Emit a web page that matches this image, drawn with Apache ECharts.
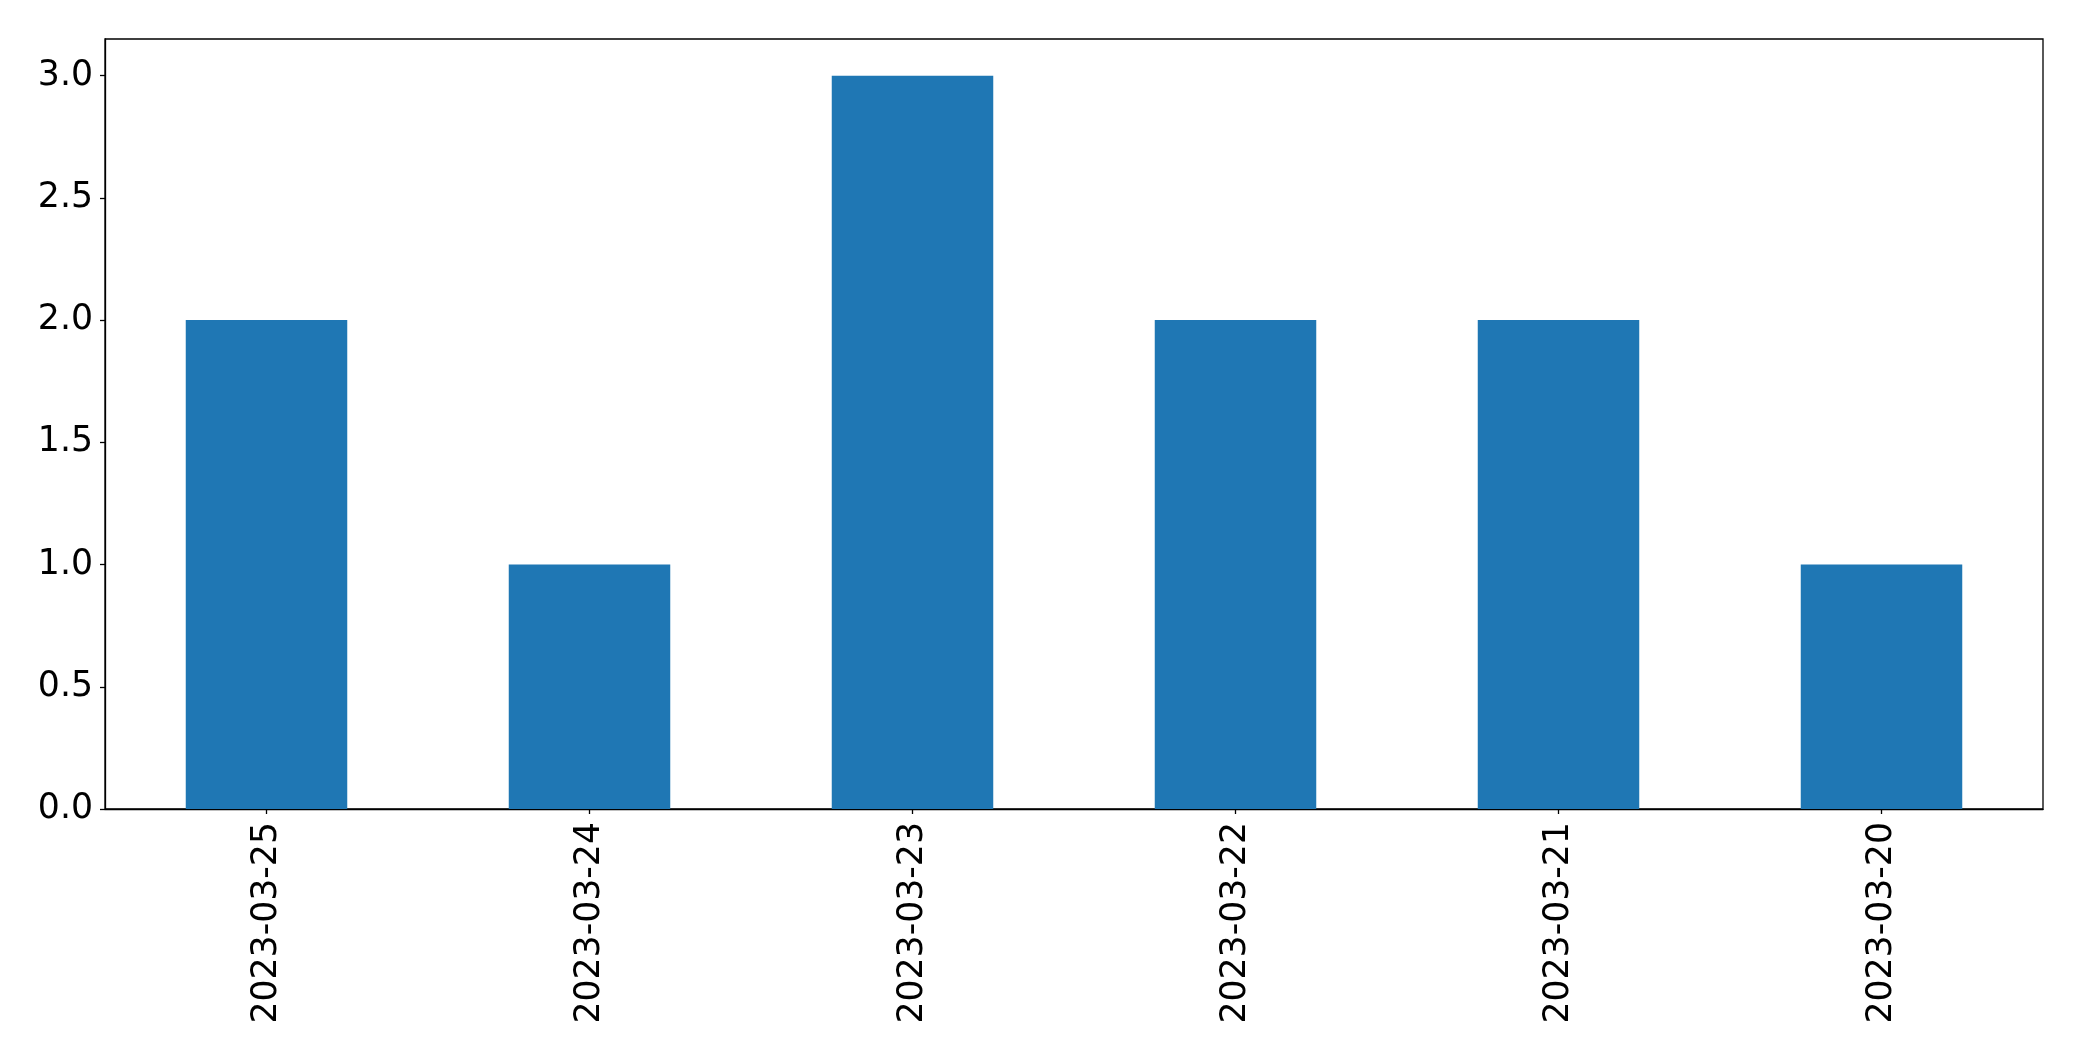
<!DOCTYPE html>
<html><head><meta charset="utf-8">
<script src="https://cdn.jsdelivr.net/npm/echarts@6/dist/echarts.min.js"></script>
<style>html,body{margin:0;padding:0;background:#fff}#c{width:2082px;height:1061px}</style>
</head><body><div id="c"></div>
<script>
const categories = ['2023-03-25','2023-03-24','2023-03-23','2023-03-22','2023-03-21','2023-03-20'];
const values = [2, 1, 3, 2, 2, 1];
const yMin = 0, yMax = 3.15, yStep = 0.5;

const chart = echarts.init(document.getElementById('c'), null, {renderer:'canvas'});
const font = 'DejaVu Sans';
chart.setOption({
  animation: false,
  backgroundColor: '#ffffff',
  grid: {left: 105, right: 39, top: 39, bottom: 252, show: true, borderColor: '#000', borderWidth: 1.3, backgroundColor: 'transparent'},
  xAxis: {
    type: 'category', data: categories,
    axisLine: {show: true, lineStyle: {color: '#000', width: 1.3}},
    axisTick: {show: true, alignWithLabel: true, length: 5, lineStyle: {color: '#000', width: 1.3}},
    axisLabel: {rotate: 90, fontFamily: font, fontSize: 34.7, color: '#000', margin: 13, interval: 0}
  },
  yAxis: {
    type: 'value', min: yMin, max: yMax, interval: yStep,
    splitLine: {show: false},
    axisLine: {show: true, lineStyle: {color: '#000', width: 1.3}},
    axisTick: {show: true, length: 5, lineStyle: {color: '#000', width: 1.3}},
    axisLabel: {fontFamily: font, fontSize: 34.7, color: '#000', margin: 12, showMaxLabel: false,
      formatter: v => (Math.abs(v / yStep - Math.round(v / yStep)) < 1e-6) ? v.toFixed(1) : ''}
  },
  series: [{
    type: 'bar', data: values, barWidth: '50%',
    itemStyle: {color: '#1f77b4'}
  }]
});
</script></body></html>
